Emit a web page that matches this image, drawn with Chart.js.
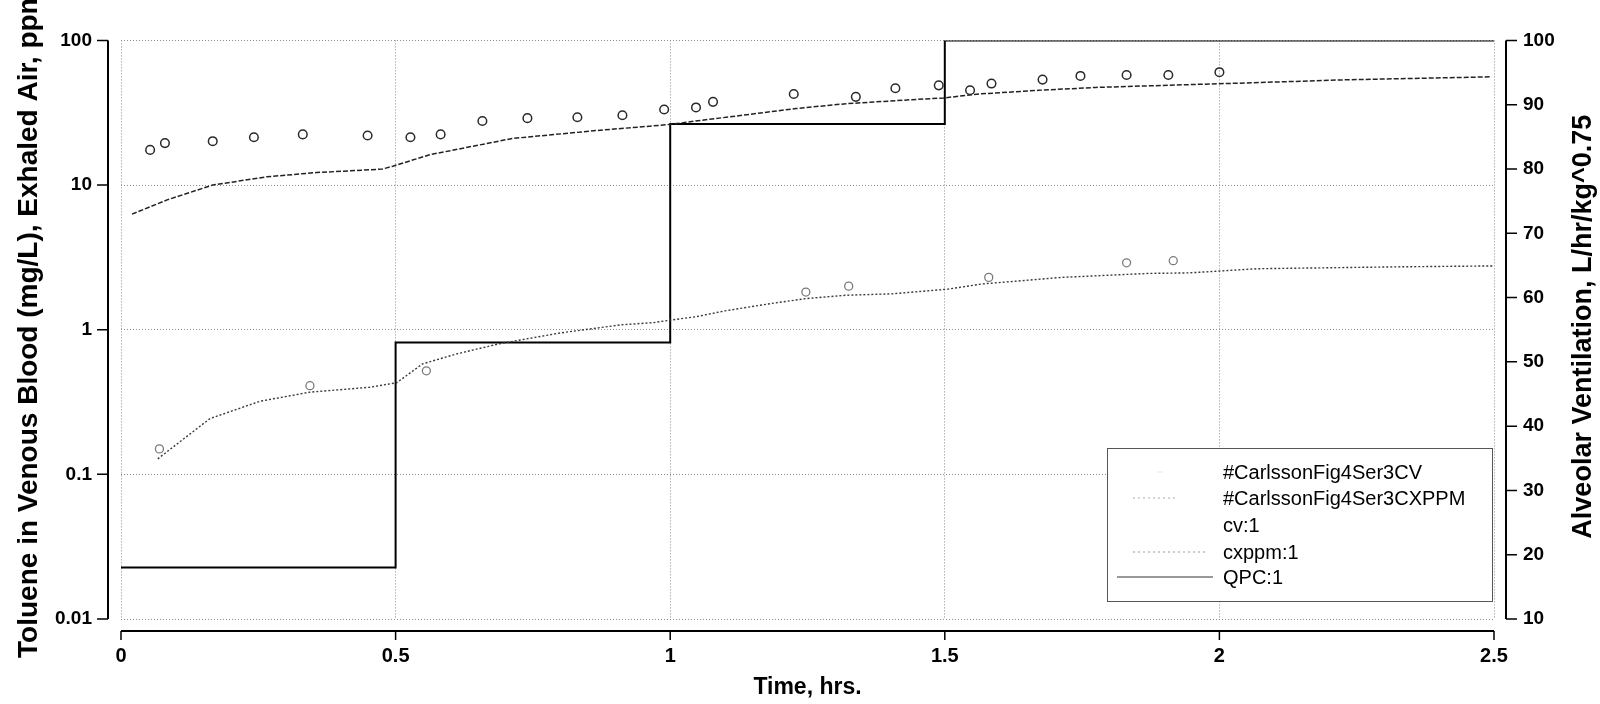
<!DOCTYPE html>
<html><head><meta charset="utf-8">
<style>html,body{margin:0;padding:0;background:#fff;}canvas{display:block;}</style>
<script src="https://cdn.jsdelivr.net/npm/chart.js@4.4.1/dist/chart.umd.min.js"></script>
</head><body>
<canvas id="c" width="1600" height="704"></canvas>
<script>
// ---------- data ----------
const xTicks = [0, 0.5, 1, 1.5, 2, 2.5];
const xTickLabels = ['0', '0.5', '1', '1.5', '2', '2.5'];
const leftTicks = [0.01, 0.1, 1, 10, 100];
const leftTickLabels = ['0.01', '0.1', '1', '10', '100'];
const rightTicks = [10, 20, 30, 40, 50, 60, 70, 80, 90, 100];
const rightTickLabels = ['10', '20', '30', '40', '50', '60', '70', '80', '90', '100'];

// #CarlssonFig4Ser3CV  (observed venous blood, mg/L)
const cvObsT = [0.07, 0.344, 0.556, 1.247, 1.325, 1.58, 1.831, 1.916];
const cvObsV = [0.15, 0.41, 0.52, 1.82, 2.0, 2.3, 2.9, 3.0];

// #CarlssonFig4Ser3CXPPM (observed exhaled air, ppm)
const cxObsT = [0.053, 0.08, 0.167, 0.242, 0.331, 0.449, 0.527, 0.582, 0.658, 0.74, 0.831, 0.913, 0.989,
                1.047, 1.078, 1.225, 1.338, 1.41, 1.489, 1.546, 1.585, 1.678, 1.747, 1.831, 1.907, 2.0];
const cxObsV = [17.5, 19.5, 20.1, 21.4, 22.4, 22.0, 21.4, 22.4, 27.7, 29.0, 29.4, 30.4, 33.3,
                34.4, 37.6, 42.6, 40.7, 46.7, 48.9, 45.2, 50.3, 53.6, 56.8, 57.7, 57.7, 60.3];

// cv:1 (model venous blood)
const cvModT = [0.067, 0.162, 0.253, 0.344, 0.453, 0.502, 0.549, 0.611, 0.689, 0.8, 0.91, 0.97, 1.004,
                1.047, 1.1, 1.185, 1.247, 1.32, 1.404, 1.507, 1.567, 1.713, 1.871, 1.944, 2.07, 2.325, 2.5];
const cvModV = [0.128, 0.243, 0.32, 0.37, 0.40, 0.43, 0.58, 0.68, 0.80, 0.95, 1.08, 1.12, 1.17,
                1.23, 1.35, 1.52, 1.64, 1.73, 1.77, 1.91, 2.07, 2.3, 2.45, 2.47, 2.64, 2.72, 2.76];

// cxppm:1 (model exhaled air)
const cxModT = [0.02, 0.084, 0.167, 0.265, 0.356, 0.476, 0.495, 0.562, 0.713, 0.865, 0.993, 1.076, 1.229,
                1.32, 1.44, 1.498, 1.562, 1.671, 1.775, 1.956, 2.071, 2.229, 2.495];
const cxModV = [6.3, 7.9, 10.0, 11.4, 12.2, 12.9, 13.5, 16.2, 21.0, 23.8, 26.1, 28.6, 33.8,
                36.5, 38.9, 40.0, 42.6, 45.2, 47.3, 49.6, 51.1, 53.4, 56.0];

// QPC:1 (alveolar ventilation, right axis)
const qpcT = [0, 0.5, 1.0, 1.5, 2.5];
const qpcV = [18, 53, 87, 100, 100];

// ---------- chart ----------
const FONT = "'Liberation Sans', Arial, Helvetica, sans-serif";
const zip = (t, v) => t.map((x, i) => ({x: x, y: v[i]}));

const decor = {
  id: 'decor',
  afterDraw(chart) {
    const ctx = chart.ctx, a = chart.chartArea;
    const sx = chart.scales.x, sy = chart.scales.y, sr = chart.scales.y2;
    ctx.save();
    ctx.strokeStyle = '#000';
    ctx.lineWidth = 2;
    const lx = a.left - 13, by = a.bottom + 12, rx = a.right + 12;
    ctx.beginPath();
    ctx.moveTo(lx, a.top); ctx.lineTo(lx, a.bottom);
    ctx.moveTo(a.left, by); ctx.lineTo(a.right, by);
    ctx.moveTo(rx, a.top); ctx.lineTo(rx, a.bottom);
    ctx.stroke();
    ctx.lineWidth = 1.5;
    ctx.beginPath();
    sy.ticks.forEach(t => { const y = sy.getPixelForValue(t.value); ctx.moveTo(lx - 11, y); ctx.lineTo(lx, y); });
    sx.ticks.forEach(t => { const x = sx.getPixelForValue(t.value); ctx.moveTo(x, by); ctx.lineTo(x, by + 9); });
    sr.ticks.forEach(t => { const y = sr.getPixelForValue(t.value); ctx.moveTo(rx, y); ctx.lineTo(rx + 11, y); });
    ctx.stroke();

    // axis titles (read bottom-to-top on both sides)
    ctx.fillStyle = '#000';
    ctx.textAlign = 'center';
    ctx.textBaseline = 'alphabetic';
    const cy = (a.top + a.bottom) / 2;
    ctx.font = 'bold 28px ' + FONT;
    ctx.save(); ctx.translate(37, cy - 6); ctx.rotate(-Math.PI / 2);
    ctx.fillText('Toluene in Venous Blood (mg/L), Exhaled Air, ppm', 0, 0); ctx.restore();
    ctx.font = 'bold 27px ' + FONT;
    ctx.save(); ctx.translate(1591, cy - 3); ctx.rotate(-Math.PI / 2);
    ctx.fillText('Alveolar Ventilation, L/hr/kg^0.75', 0, 0); ctx.restore();

    // legend
    const bx = 1107, bY = 448, bw = 385, bh = 153;
    ctx.fillStyle = '#fff';
    ctx.fillRect(bx, bY, bw, bh);
    ctx.strokeStyle = '#555'; ctx.lineWidth = 1; ctx.setLineDash([]);
    ctx.strokeRect(bx + 0.5, bY + 0.5, bw, bh);
    const ds = chart.data.datasets;
    const rowY = [472, 498, 525, 552, 577];
    ctx.font = '20px ' + FONT;
    ctx.textAlign = 'left'; ctx.textBaseline = 'middle';
    ds.forEach((d, i) => {
      const y = rowY[i];
      ctx.fillStyle = '#000';
      ctx.fillText(d.label, 1223, y + 1);
      ctx.strokeStyle = d.legendColor; ctx.lineWidth = 1;
      ctx.setLineDash(d.legendDash);
      if (d.legendFrom !== null) {
        ctx.beginPath(); ctx.moveTo(d.legendFrom, y); ctx.lineTo(d.legendTo, y); ctx.stroke();
      }
      ctx.setLineDash([]);
    });
    ctx.restore();
  }
};

new Chart(document.getElementById('c'), {
  type: 'line',
  data: {
    datasets: [
      {label: '#CarlssonFig4Ser3CV', data: zip(cvObsT, cvObsV), yAxisID: 'y', showLine: false,
       pointStyle: 'circle', pointRadius: 4, pointBorderWidth: 1.3, pointBorderColor: '#7a7a7a',
       pointBackgroundColor: 'rgba(0,0,0,0)', legendColor: '#bbb', legendDash: [1, 2], legendFrom: 1158, legendTo: 1162},
      {label: '#CarlssonFig4Ser3CXPPM', data: zip(cxObsT, cxObsV), yAxisID: 'y', showLine: false,
       pointStyle: 'circle', pointRadius: 4.3, pointBorderWidth: 1.5, pointBorderColor: '#2a2a2a',
       pointBackgroundColor: 'rgba(0,0,0,0)', legendColor: '#aaa', legendDash: [2, 3], legendFrom: 1133, legendTo: 1177},
      {label: 'cv:1', data: zip(cvModT, cvModV), yAxisID: 'y', borderColor: '#3a3a3a', borderWidth: 1.4,
       borderDash: [2, 2], pointRadius: 0, tension: 0, legendColor: '#ddd', legendDash: [1, 3], legendFrom: null, legendTo: null},
      {label: 'cxppm:1', data: zip(cxModT, cxModV), yAxisID: 'y', borderColor: '#222', borderWidth: 1.5,
       borderDash: [5, 2], pointRadius: 0, tension: 0, legendColor: '#999', legendDash: [2, 3], legendFrom: 1133, legendTo: 1207},
      {label: 'QPC:1', data: zip(qpcT, qpcV), yAxisID: 'y2', borderColor: '#000', borderWidth: 2,
       stepped: 'before', pointRadius: 0, legendColor: '#333', legendDash: [], legendFrom: 1117, legendTo: 1213}
    ]
  },
  options: {
    responsive: false, animation: false, devicePixelRatio: 1,
    layout: {padding: {top: 16, left: 0, right: 0, bottom: 0}},
    plugins: {legend: {display: false}, tooltip: {enabled: false}},
    scales: {
      x: {
        type: 'linear', min: 0, max: 2.5,
        afterBuildTicks: s => { s.ticks = xTicks.map(v => ({value: v})); },
        afterFit: s => { s.height = 85; },
        ticks: {autoSkip: false, maxRotation: 0, padding: 25, color: '#000',
                font: {family: FONT, size: 20, weight: 'bold'},
                callback: (v, i) => xTickLabels[i]},
        grid: {color: '#8c8c8c', lineWidth: 1, drawTicks: false},
        border: {display: false, dash: [1, 2]},
        title: {display: true, text: 'Time, hrs.', color: '#000', font: {family: FONT, size: 23, weight: 'bold'},
                padding: {top: 0, bottom: 3}}
      },
      y: {
        type: 'logarithmic', position: 'left', min: 0.01, max: 100,
        afterBuildTicks: s => { s.ticks = leftTicks.map(v => ({value: v})); },
        afterFit: s => { s.width = 121; },
        ticks: {autoSkip: false, padding: 29, color: '#000',
                font: {family: FONT, size: 19, weight: 'bold'},
                callback: (v, i) => leftTickLabels[i]},
        grid: {color: '#8c8c8c', lineWidth: 1, drawTicks: false},
        border: {display: false, dash: [1, 2]}
      },
      y2: {
        type: 'linear', position: 'right', min: 10, max: 100,
        afterBuildTicks: s => { s.ticks = rightTicks.map(v => ({value: v})); },
        afterFit: s => { s.width = 106; },
        ticks: {autoSkip: false, padding: 29, color: '#000',
                font: {family: FONT, size: 19, weight: 'bold'},
                callback: (v, i) => rightTickLabels[i]},
        grid: {drawOnChartArea: false, drawTicks: false},
        border: {display: false}
      }
    }
  },
  plugins: [decor]
});
</script>
</body></html>
